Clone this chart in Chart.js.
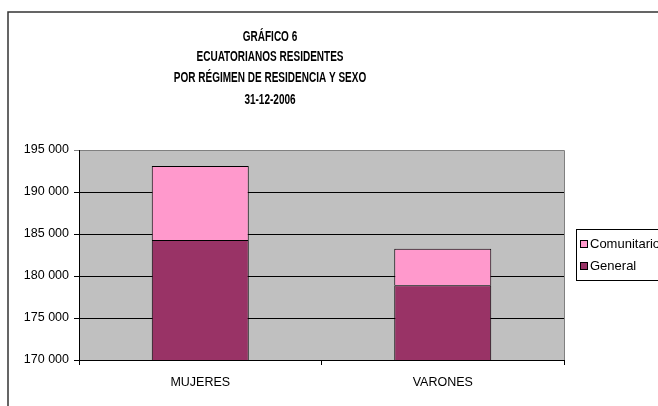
<!DOCTYPE html>
<html>
<head>
<meta charset="utf-8">
<script src="https://cdn.jsdelivr.net/npm/chart.js@4/dist/chart.umd.min.js"></script>
<style>
  html, body { margin: 0; padding: 0; background: #fff; overflow: hidden; }
  #wrap { width: 658px; height: 406px; position: relative; }
</style>
</head>
<body>
<div id="wrap"><canvas id="grafico"></canvas></div>
<script>
// Datos
const categorias = ["MUJERES", "VARONES"];
const general = [184300, 178900];
const comunitario = [8800, 4350];
const tituloLineas = ["GRÁFICO 6", "ECUATORIANOS RESIDENTES", "POR RÉGIMEN DE RESIDENCIA Y SEXO", "31-12-2006"];
const ejeY = { min: 170000, max: 195000, paso: 5000 };

const FUENTE = "'Liberation Sans', Arial, sans-serif";

const fmt = v => String(v).replace(/\B(?=(\d{3})+(?!\d))/g, " ");

// Marco, título y leyenda al estilo Excel
const decoracion = {
  id: "decoracion",
  beforeDraw(chart) {
    const { ctx, chartArea: a } = chart;
    ctx.save();
    ctx.fillStyle = "#c0c0c0";
    ctx.fillRect(a.left, a.top, a.right - a.left, a.bottom - a.top);
    ctx.strokeStyle = "#808080";
    ctx.lineWidth = 1;
    ctx.beginPath();
    ctx.moveTo(a.left, a.top + 0.5);
    ctx.lineTo(a.right + 0.5, a.top + 0.5);
    ctx.lineTo(a.right + 0.5, a.bottom);
    ctx.stroke();
    ctx.restore();
  },
  afterDraw(chart) {
    const { ctx } = chart;
    ctx.save();
    // marco exterior
    ctx.strokeStyle = "#333";
    ctx.lineWidth = 1.5;
    ctx.strokeRect(8, 12, 700, 450);

    // título (letra estrecha: se comprime en horizontal)
    ctx.save();
    ctx.fillStyle = "#000";
    ctx.font = "bold 14px " + FUENTE;
    ctx.textAlign = "center";
    ctx.textBaseline = "middle";
    ctx.translate(270, 0);
    ctx.scale(0.715, 1);
    const ys = [37, 57, 78, 100];
    tituloLineas.forEach((t, i) => ctx.fillText(t, 0, ys[i]));
    ctx.restore();

    // leyenda
    ctx.fillStyle = "#fff";
    ctx.fillRect(576, 229, 120, 51);
    ctx.strokeStyle = "#000";
    ctx.lineWidth = 1;
    ctx.strokeRect(576.5, 229.5, 120, 51);
    ctx.font = "13px " + FUENTE;
    ctx.textAlign = "left";
    ctx.textBaseline = "middle";
    const items = chart.data.datasets.slice().reverse();
    items.forEach((ds, i) => {
      const y = 241 + i * 22;
      ctx.fillStyle = ds.backgroundColor;
      ctx.fillRect(581, y, 6, 6);
      ctx.strokeStyle = "#000";
      ctx.strokeRect(580.5, y - 0.5, 7, 7);
      ctx.fillStyle = "#000";
      ctx.fillText(ds.label, 590, y + 3.5);
    });
    ctx.restore();
  }
};

new Chart(document.getElementById("grafico").getContext("2d"), {
  type: "bar",
  data: {
    labels: categorias,
    datasets: [
      { label: "General", data: general, backgroundColor: "#993366", borderColor: "#000", borderWidth: 1 },
      { label: "Comunitario", data: comunitario, backgroundColor: "#ff99cc", borderColor: "#000", borderWidth: 1 }
    ]
  },
  options: {
    responsive: true,
    maintainAspectRatio: false,
    animation: false,
    devicePixelRatio: 1,
    layout: { padding: { left: 0, top: 150, right: 94, bottom: 8 } },
    datasets: { bar: { categoryPercentage: 1, barPercentage: 0.4 } },
    plugins: { legend: { display: false }, title: { display: false }, tooltip: { enabled: false } },
    scales: {
      x: {
        stacked: true,
        border: { color: "#000", width: 1 },
        grid: { drawOnChartArea: false, tickLength: 5, color: "#000", offset: true },
        ticks: { color: "#000", font: { family: FUENTE, size: 12.5 }, padding: 10 },
        afterFit: s => { s.height = 38; }
      },
      y: {
        stacked: true,
        min: ejeY.min,
        max: ejeY.max,
        border: { color: "#000", width: 1 },
        grid: {
          color: c => (c.tick && c.tick.value === ejeY.max ? "#808080" : "#000"),
          tickLength: 5
        },
        ticks: {
          stepSize: ejeY.paso,
          color: "#000",
          font: { family: FUENTE, size: 12.5 },
          padding: 5,
          callback: v => fmt(v)
        },
        afterFit: s => { s.width = 79; }
      }
    }
  },
  plugins: [decoracion]
});
</script>
</body>
</html>
